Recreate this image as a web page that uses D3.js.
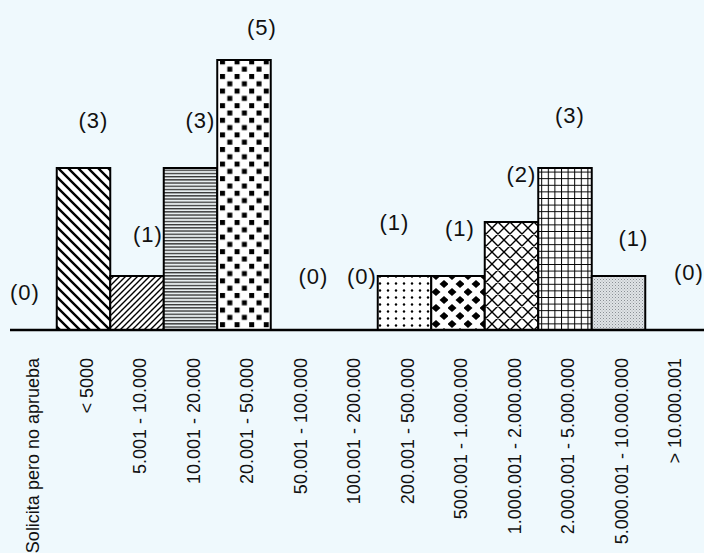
<!DOCTYPE html>
<html>
<head>
<meta charset="utf-8">
<script src="https://cdn.jsdelivr.net/npm/d3@7"></script>
<style>
  html, body { margin: 0; padding: 0; background: #eff9fd; }
  svg { display: block; }
</style>
</head>
<body>
<svg id="chart" width="704" height="553"></svg>
<script>
// ---- data ----
const categories = [
  "Solicita pero no aprueba", "< 5000", "5.001 - 10.000", "10.001 - 20.000",
  "20.001 - 50.000", "50.001 - 100.000", "100.001 - 200.000", "200.001 - 500.000",
  "500.001 - 1.000.000", "1.000.001 - 2.000.000", "2.000.001 - 5.000.000",
  "5.000.001 - 10.000.000", "> 10.000.001"
];
const counts = [0, 3, 1, 3, 5, 0, 0, 1, 1, 2, 3, 1, 0];
const countLabels = ["(0)", "(3)", "(1)", "(3)", "(5)", "(0)", "(0)", "(1)", "(1)", "(2)", "(3)", "(1)", "(0)"];

// ---- layout / style (kept apart from data) ----
const patternIds = ["none", "diagBack", "diagFwd", "hlines", "checker", "none", "none",
  "dots", "diamonds", "crosshatch", "grid", "stipple", "none"];
// label nudges [dx from band centre, dy from bar top]
const labelNudge = [[-5, -38], [10, -48], [11, -42], [10, -48], [18, -33], [16, -54], [11, -54],
  [-10, -54], [2, -48], [10, -48], [5, -53], [15, -38], [17, -58]];

const W = 704, H = 553;
const baseY = 330;
const svg = d3.select("#chart");

const x = d3.scaleBand().domain(categories).range([3.25, 698.75]).padding(0);
const y = d3.scaleLinear().domain([0, 5]).range([baseY, 60]);

// ---- patterns ----
const defs = svg.append("defs");
function pat(id, w, h) {
  return defs.append("pattern").attr("id", id).attr("patternUnits", "userSpaceOnUse")
    .attr("width", w).attr("height", h);
}
{ // back diagonal "\"
  const p = pat("diagBack", 10, 10);
  p.append("rect").attr("width", 10).attr("height", 10).attr("fill", "#fff");
  p.append("path").attr("d", "M-2,-2 L12,12 M-2,8 L2,12 M8,-2 L12,2").attr("stroke", "#000").attr("stroke-width", 2.4);
}
{ // forward diagonal "/"
  const p = pat("diagFwd", 6, 6);
  p.append("rect").attr("width", 6).attr("height", 6).attr("fill", "#fff");
  p.append("path").attr("d", "M-1,7 L7,-1 M-1,1 L1,-1 M5,7 L7,5").attr("stroke", "#000").attr("stroke-width", 1.4);
}
{ // horizontal lines
  const p = pat("hlines", 6, 3.2);
  p.append("rect").attr("width", 6).attr("height", 3.2).attr("fill", "#e8eef0");
  p.append("rect").attr("y", 0).attr("width", 6).attr("height", 1.3).attr("fill", "#333");
}
{ // checkerboard of separated squares
  const p = pat("checker", 14.6, 14.6);
  p.append("rect").attr("width", 14.6).attr("height", 14.6).attr("fill", "#fff");
  p.append("rect").attr("x", 1).attr("y", 1).attr("width", 5).attr("height", 5).attr("fill", "#000");
  p.append("rect").attr("x", 8.3).attr("y", 8.3).attr("width", 5).attr("height", 5).attr("fill", "#000");
}
{ // dots
  const p = pat("dots", 8, 7);
  p.append("rect").attr("width", 8).attr("height", 7).attr("fill", "#fff");
  p.append("circle").attr("cx", 4).attr("cy", 3.5).attr("r", 1.2).attr("fill", "#000");
}
{ // diamonds
  const p = pat("diamonds", 16, 16);
  p.append("rect").attr("width", 16).attr("height", 16).attr("fill", "#fff");
  p.append("path").attr("d", "M4,0 L8.5,4 L4,8 L-0.5,4Z M12,8 L16.5,12 L12,16 L7.5,12Z").attr("fill", "#000");
}
{ // diagonal crosshatch
  const p = pat("crosshatch", 12, 12);
  p.append("rect").attr("width", 12).attr("height", 12).attr("fill", "#fff");
  p.append("path").attr("d", "M-1,-1 L13,13 M-1,13 L13,-1 M-1,11 L1,13 M11,-1 L13,1 M-1,1 L1,-1 M11,13 L13,11")
    .attr("stroke", "#000").attr("stroke-width", 1.4);
}
{ // square grid
  const p = pat("grid", 6.6, 6.6);
  p.append("rect").attr("width", 6.6).attr("height", 6.6).attr("fill", "#fff");
  p.append("path").attr("d", "M0,0 H6.6 M0,0 V6.6").attr("stroke", "#000").attr("stroke-width", 2);
}
{ // fine stipple
  const p = pat("stipple", 3, 3);
  p.append("rect").attr("width", 3).attr("height", 3).attr("fill", "#dfe3e6");
  p.append("rect").attr("x", 0).attr("y", 0).attr("width", 1).attr("height", 1).attr("fill", "#8a8f94");
  p.append("rect").attr("x", 1.5).attr("y", 1.5).attr("width", 1).attr("height", 1).attr("fill", "#a7acb0");
}

// ---- bars ----
const barData = categories.map((c, i) => ({ c, v: counts[i], p: patternIds[i], label: countLabels[i], i }));
svg.append("g").selectAll("rect")
  .data(barData.filter(d => d.v > 0))
  .join("rect")
  .attr("x", d => x(d.c))
  .attr("y", d => y(d.v))
  .attr("width", x.bandwidth())
  .attr("height", d => y(0) - y(d.v))
  .attr("fill", d => `url(#${d.p})`)
  .attr("stroke", "#000")
  .attr("stroke-width", 2);

// ---- baseline ----
svg.append("line").attr("x1", 10).attr("x2", W).attr("y1", baseY).attr("y2", baseY)
  .attr("stroke", "#000").attr("stroke-width", 2.5);

// ---- value labels ----
svg.append("g").selectAll("text")
  .data(barData)
  .join("text")
  .attr("x", d => x(d.c) + x.bandwidth() / 2 + labelNudge[d.i][0])
  .attr("y", d => y(d.v) + labelNudge[d.i][1])
  .attr("text-anchor", "middle")
  .attr("dominant-baseline", "central")
  .attr("font-family", "'Liberation Sans', Arial, sans-serif")
  .attr("font-size", 22)
  .attr("letter-spacing", 1)
  .attr("fill", "#111")
  .text(d => d.label);

// ---- category axis ----
const axis = d3.axisBottom(x).tickSize(0).tickPadding(0);
const gAxis = svg.append("g").attr("transform", `translate(0,${baseY})`).call(axis);
gAxis.select(".domain").remove();
gAxis.selectAll(".tick text")
  .attr("transform", "translate(3,28) rotate(-90)")
  .attr("x", 0).attr("y", 0).attr("dy", "0.35em")
  .attr("text-anchor", "end")
  .attr("font-family", "'Liberation Sans', Arial, sans-serif")
  .attr("font-size", 18)
  .attr("fill", "#111");
</script>
</body>
</html>
